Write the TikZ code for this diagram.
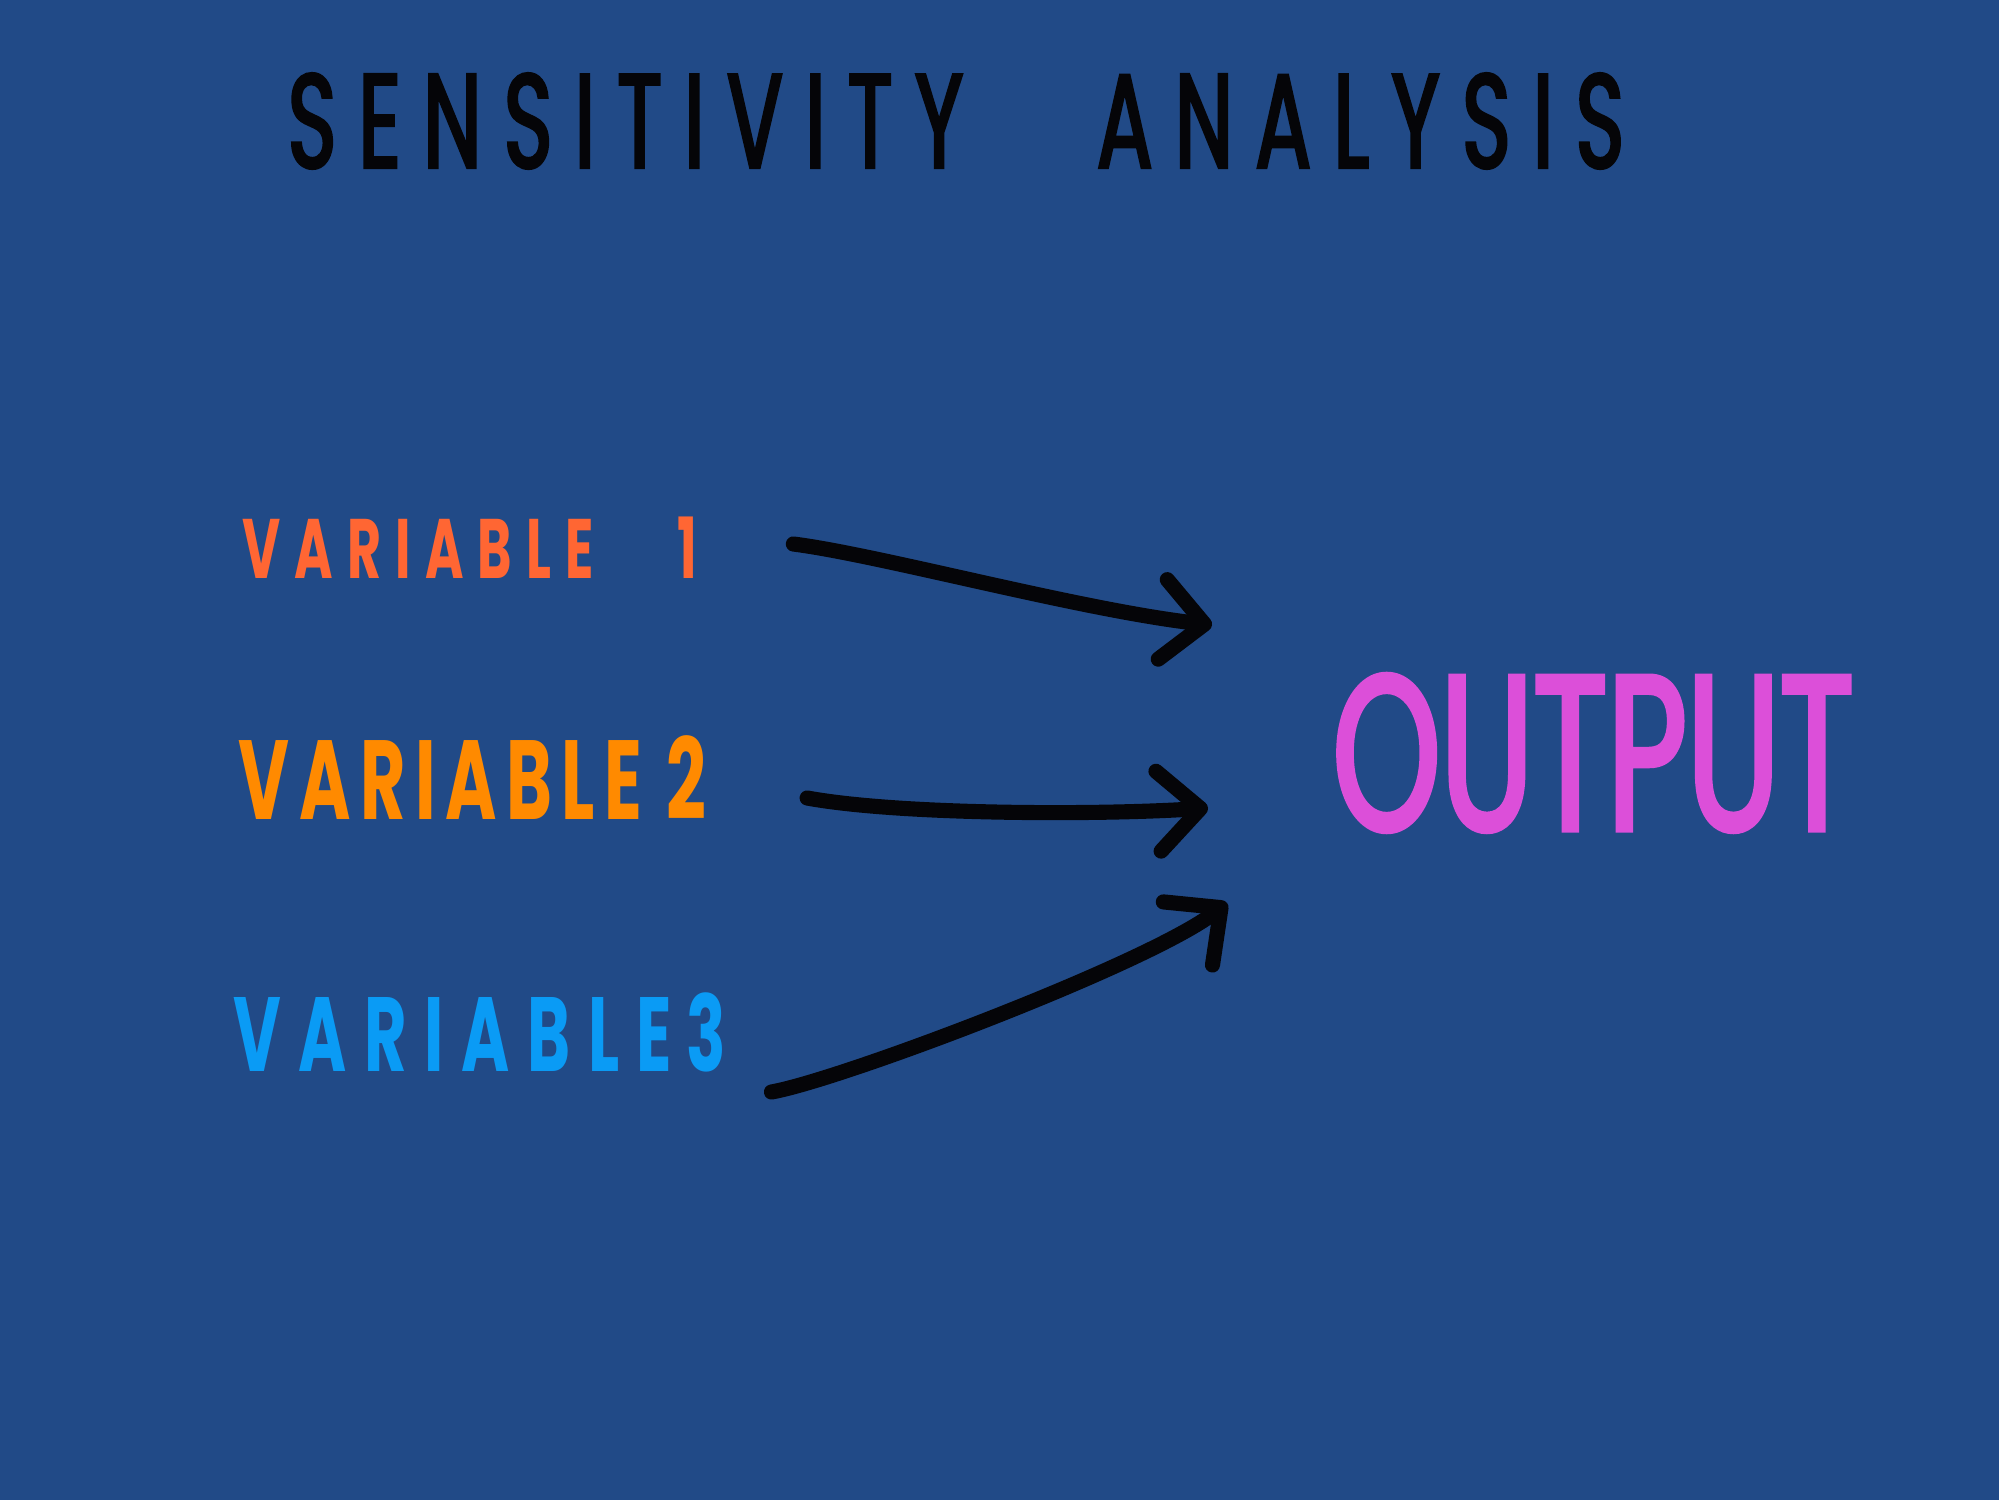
\documentclass[tikz,border=0pt]{standalone}
\usepackage{fontspec}
\setmainfont{Poppins}
\newfontfamily\hand[FakeStretch=0.62]{Poppins}
\newfontfamily\handthick[FakeStretch=0.62, FakeBold=2.2]{Poppins}
\usetikzlibrary{arrows.meta, positioning}
\definecolor{bgblue}{HTML}{214A87}
\definecolor{varone}{HTML}{FF6633}
\definecolor{vartwo}{HTML}{FF8A00}
\definecolor{varthree}{HTML}{0A9BF5}
\definecolor{outpink}{HTML}{DC4FD9}
\definecolor{ink}{HTML}{050508}

\begin{document}
\begin{tikzpicture}[
  varlabel/.style={inner sep=0, anchor=west},
  flow/.style={ink, line width=4.3pt, line cap=round,
    -{Straight Barb[length=0.42cm, width=0.8cm, line cap=round, line join=round]}}
]
\fill[bgblue] (0,0) rectangle (19.99,15);
\useasboundingbox (0,0) rectangle (19.99,15);

% title
\node[inner sep=0, ink, font=\handthick\fontsize{38}{38}\selectfont] (title) at (9.56,13.79) {S\,E\,N\,S\,I\,T\,I\,V\,I\,T\,Y\quad A\,N\,A\,L\,Y\,S\,I\,S};

% inputs
\node[varlabel, varone, font=\hand\bfseries\fontsize{24}{24}\selectfont] (v1) at (2.42,9.52) {V\,A\,R\,I\,A\,B\,L\,E\quad 1};
\node[varlabel, vartwo, font=\hand\bfseries\fontsize{32}{32}\selectfont\addfontfeatures{LetterSpace=8.5}] (v2) at (2.38,7.22) {VARIABLE\ 2};
\node[varlabel, varthree, font=\hand\bfseries\fontsize{30}{30}\selectfont] (v3) at (2.33,4.68) {V\,A\,R\,I\,A\,B\,L\,E\ 3};

% output
\node[inner sep=0, anchor=west, outpink, font=\handthick\fontsize{63}{63}\selectfont] (out) at (13.32,7.47) {OUTPUT};

\coordinate (in1) at (12.12,8.75);
\coordinate (in2) at (12.08,6.92);
\coordinate (in3) at (12.27,5.97);

\draw[flow] ([xshift=0.95cm,yshift=0.04cm]v1.east) .. controls (8.8,9.45) and (10.8,8.9) .. (in1);
\draw[flow] ([xshift=1.0cm,yshift=-0.2cm]v2.east) .. controls (9.0,6.85) and (11.0,6.85) .. (in2);
\draw[flow] ([xshift=0.45cm,yshift=-0.6cm]v3.east) .. controls (8.4,4.2) and (11.5,5.37) .. (in3);
\end{tikzpicture}
\end{document}
